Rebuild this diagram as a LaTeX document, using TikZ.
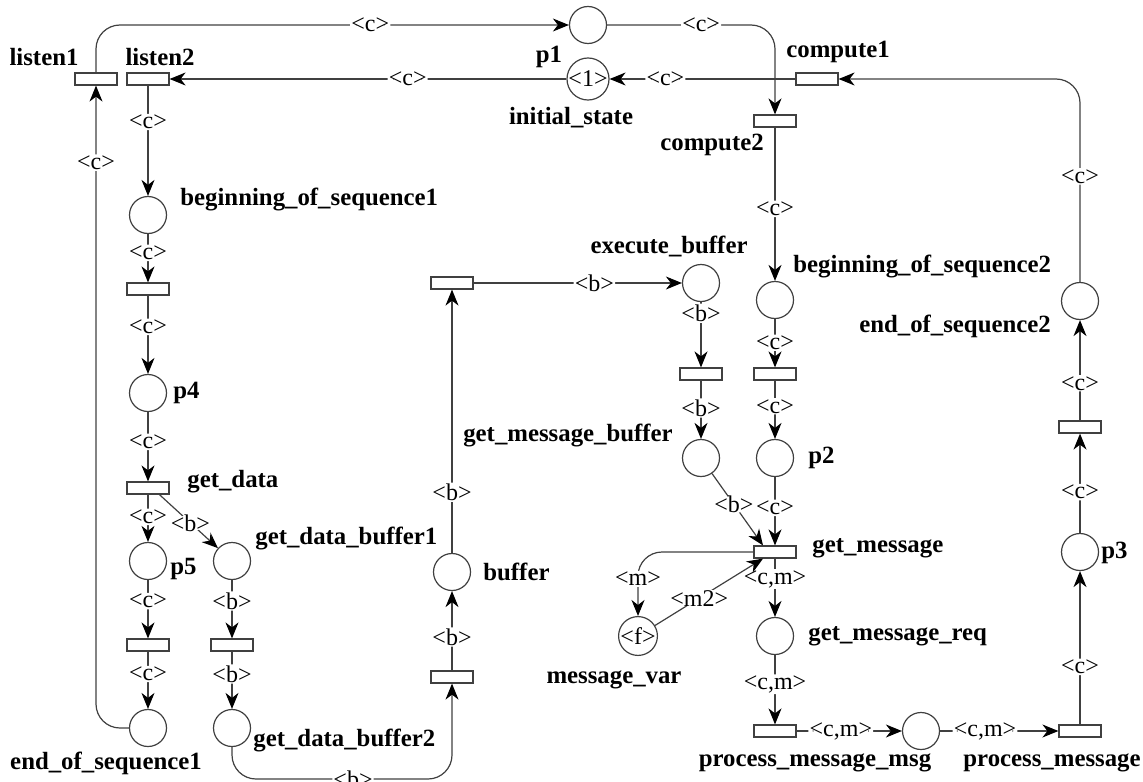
\documentclass[tikz,border=0pt]{standalone}
\usepackage{fontspec}
\setmainfont{Liberation Serif}
\usetikzlibrary{calc}
\usetikzlibrary{arrows.meta}
\usetikzlibrary{positioning}
\tikzset{
  place/.style={draw=black!75,circle,minimum size=18.5pt,inner sep=0pt,line width=0.6pt},
  trans/.style={draw=black!75,rectangle,minimum width=21pt,minimum height=6pt,inner sep=0pt,line width=0.6pt},
  flow/.style={draw=black!75,line width=0.6pt,rounded corners=12pt,-{Stealth[length=8pt,width=6.5pt,inset=2.5pt,black]}},
  insc/.style={fill=white,inner sep=0.6pt,font=\fontsize{12}{12}\selectfont},
  token/.style={font=\fontsize{12}{12}\selectfont},
  pname/.style={inner sep=0pt,font=\fontsize{12.4}{13}\selectfont\bfseries}
}

\begin{document}
\begin{tikzpicture}[x=0.5pt,y=-0.5pt]
  \useasboundingbox (0,0) rectangle (1143,781);

  % places
  \foreach \n/\x/\y in {p1/588/25, boseqA/148/215, p4/148/393, p5/148/561, gdbA/232/561,
      eosA/148/728, gdbB/232/728, buffer/452/572, exbuf/701/283, gmbuf/701/458,
      boseqB/775/300, p2/775/458, gmreq/775/636, msg/921/731, p3/1080/552, eosB/1080/301}{%
    \node[place] (\n) at (\x,\y) {};
  }
  \node[place,token] (init) at (588,79) {<1>};
  \node[place,token] (mvar) at (638,636) {<f>};

  % transitions
  \foreach \n/\x/\y in {listenA/96/79, listenB/148/79, computeA/817/79, computeB/775/121,
      tA/148/289, getdata/148/488, tB/148/645, tC/232/645, tD/452/677, tE/452/283,
      tF/701/374, tG/775/374, getmsg/775/552, pmsg/775/731, pmes/1080/731, tH/1080/427}{%
    \node[trans] (\n) at (\x,\y) {};
  }

  \foreach \n/\a/\x/\y/\t in {listenA/center/44/57/listen1, listenB/center/160/57/listen2,
      p1/center/549/57/p1, init/center/571/118/initial\_state,
      computeA/center/838/52/compute1, computeB/center/712/145/compute2,
      boseqA/west/180/200/beginning\_of\_sequence1, boseqB/west/793/267/beginning\_of\_sequence2,
      exbuf/center/669/246/execute\_buffer, p4/west/173/393/p4, getdata/west/187/482/get\_data,
      p5/west/170/569/p5, gdbA/west/255/538/get\_data\_buffer1, gdbB/west/253/740/get\_data\_buffer2,
      eosA/center/106/763/end\_of\_sequence1, buffer/west/483/572/buffer,
      gmbuf/center/568/435/get\_message\_buffer, p2/west/808/458/p2,
      getmsg/west/812/548/get\_message, mvar/center/614/680/message\_var,
      gmreq/west/808/636/get\_message\_req, pmsg/center/815/763/process\_message\_msg,
      pmes/center/1052/763/process\_message, p3/west/1101/553/p3,
      eosB/center/955/326/end\_of\_sequence2}{%
    \node[pname,anchor=\a] (l-\n) at (\x,\y) {\t};
  }

  \foreach \a/\b/\p/\t in {listenB/boseqA/0.33/c, boseqA/tA/0.39/c, tA/p4/0.40/c,
      p4/getdata/0.43/c, getdata/p5/0.47/c, p5/tB/0.36/c, tB/eosA/0.39/c,
      gdbA/tC/0.36/b, tC/gdbB/0.39/b, tD/buffer/0.42/b, buffer/tE/0.23/b,
      tE/exbuf/0.58/b, exbuf/tF/0.17/b, tF/gmbuf/0.47/b,
      computeB/boseqB/0.53/c, boseqB/tG/0.49/c, tG/p2/0.44/c, p2/getmsg/0.45/c,
      getmsg/gmreq/0.35/{c,m}, gmreq/pmsg/0.42/{c,m}, pmsg/msg/0.42/{c,m},
      msg/pmes/0.38/{c,m}, pmes/p3/0.375/c, p3/tH/0.41/c, tH/eosB/0.37/c,
      computeA/init/0.70/c, init/listenB/0.40/c}{%
    \draw[flow] (\a) -- node[insc,pos=\p] {<\t>} (\b);
  }

  \coordinate (bot) at (353,779);
  \draw[flow] (listenA) |- node[insc,pos=0.79] {<c>} (p1);
  \draw[flow] (p1) -| node[insc,pos=0.28] {<c>} (computeB);
  \draw[flow] (eosB) |- node[insc,pos=0.26] {<c>} (computeA);
  \draw[flow] (eosA) -| node[insc,pos=0.94] {<c>} (listenA);
  \draw[flow] (gdbB) |- (bot) node[insc] {<b>} -| (tD);
  \draw[flow] (getdata.-30) -- node[insc,pos=0.53] {<b>} (gdbA);
  \draw[flow] (gmbuf) -- node[insc,pos=0.43] {<b>} ($(getmsg.north)+(-12,0)$);
  \draw[flow] (getmsg) -| node[insc,pos=0.71] {<m>} (mvar);
  \draw[flow] (mvar) -- node[insc,pos=0.41] {<m2>} ($(getmsg.south)+(-12,0)$);
\end{tikzpicture}
\end{document}
